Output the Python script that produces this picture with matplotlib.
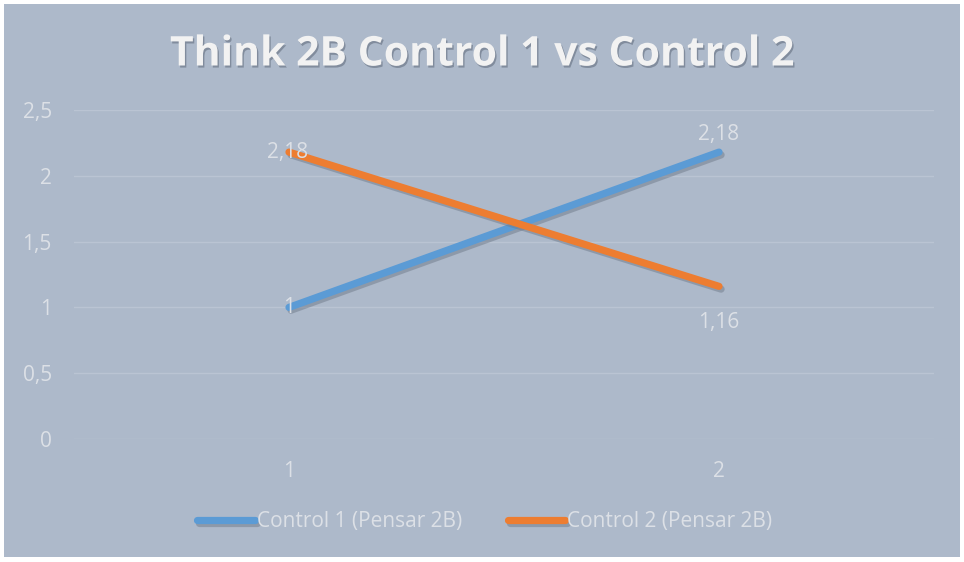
import matplotlib.pyplot as plt
import matplotlib.patheffects as pe
from matplotlib.patches import Rectangle

categories = ["1", "2"]
control1 = [1.0, 2.18]
control2 = [2.18, 1.16]
series_names = ["Control 1 (Pensar 2B)", "Control 2 (Pensar 2B)"]
y_ticks = [0, 0.5, 1, 1.5, 2, 2.5]

bg = "#ADB9CA"
txt = "#DCE0E6"

fig = plt.figure(figsize=(9.64, 5.62), dpi=100)
fig.patch.set_facecolor("white")
fig.add_artist(Rectangle((4 / 964, 5 / 562), 956 / 964, 553 / 562,
                         transform=fig.transFigure, facecolor=bg, edgecolor="none", zorder=0))

ax = fig.add_axes([74 / 964, 1 - 439 / 562, 860 / 964, 329 / 562])
ax.set_facecolor("none")
x = list(range(1, len(categories) + 1))

shadow = [pe.SimpleLineShadow(offset=(1.5, -2), shadow_color="#6F7A8A", alpha=0.5), pe.Normal()]
ax.plot(x, control1, color="#5B9BD5", lw=5.2, solid_capstyle="round",
        label=series_names[0], path_effects=shadow, zorder=3)
ax.plot(x, control2, color="#ED7D31", lw=5.2, solid_capstyle="round",
        label=series_names[1], path_effects=shadow, zorder=3)

ax.set_xlim(0.5, 2.5)
ax.set_ylim(0, 2.5)
ax.set_yticks(y_ticks)
ax.set_yticklabels([f"{v:g}".replace(".", ",") for v in y_ticks])
ax.set_xticks(x)
ax.set_xticklabels(categories)
ax.grid(axis="y", color="#BAC4D3", lw=1)
ax.set_axisbelow(True)
for s in ax.spines.values():
    s.set_visible(False)
ax.tick_params(length=0, colors=txt, labelsize=15)
ax.tick_params(axis="y", pad=16)
ax.tick_params(axis="x", pad=16)
for lab in ax.get_xticklabels() + ax.get_yticklabels():
    lab.set_family("Open Sans")


def fmt(v):
    return f"{v:g}".replace(".", ",")


lab_kw = dict(color=txt, fontsize=15, family="Open Sans", zorder=4)
ax.annotate(fmt(control1[0]), (x[0], control1[0]), ha="center", va="center", **lab_kw)
ax.annotate(fmt(control1[1]), (x[1], control1[1]), xytext=(0, 13), textcoords="offset points",
            ha="center", va="center", **lab_kw)
ax.annotate(fmt(control2[0]), (x[0], control2[0]), xytext=(-1, 0), textcoords="offset points",
            ha="center", va="center", **lab_kw)
ax.annotate(fmt(control2[1]), (x[1], control2[1]), xytext=(0, -26), textcoords="offset points",
            ha="center", va="center", **lab_kw)

fig.text(0.501, 1 - 55 / 562, "Think 2B Control 1 vs Control 2", ha="center", va="center",
         color="#F2F2F2", fontsize=29.5, fontweight="bold", family="Open Sans",
         path_effects=[pe.withSimplePatchShadow(offset=(1, -1.5), shadow_rgbFace="#6F7A8A", alpha=0.7)])

leg = fig.legend(loc="center", bbox_to_anchor=(0.503, 1 - 522 / 562), ncol=2, frameon=False,
                 handlelength=2.75, handletextpad=0.1, columnspacing=2.2,
                 prop={"family": "Open Sans", "size": 15})
for t in leg.get_texts():
    t.set_color(txt)

fig.savefig("out.png", dpi=100, facecolor=fig.get_facecolor())
